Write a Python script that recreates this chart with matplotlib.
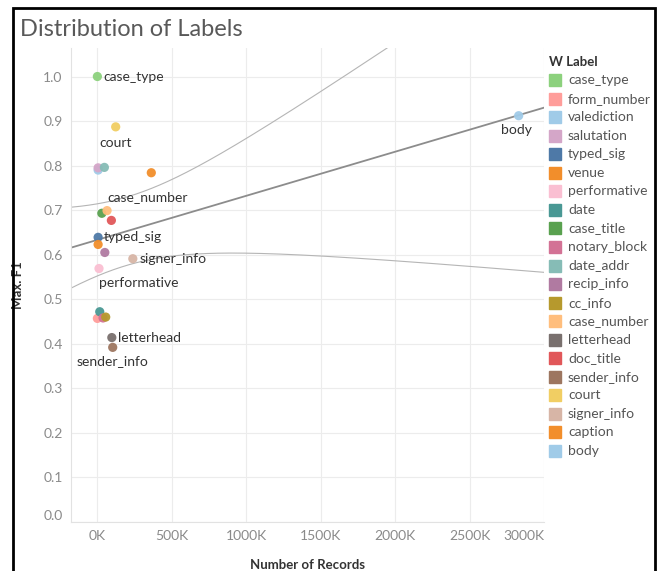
import numpy as np
import matplotlib
matplotlib.use("Agg")
import matplotlib.pyplot as plt
from matplotlib.patches import Rectangle

plt.rcParams['font.family'] = ['Lato', 'DejaVu Sans']

# label name, number of records (thousands), max F1
labels = ["case_type", "form_number", "valediction", "salutation", "typed_sig", "venue",
          "performative", "date", "case_title", "notary_block", "date_addr", "recip_info",
          "cc_info", "case_number", "letterhead", "doc_title", "sender_info", "court",
          "signer_info", "caption", "body"]
records_k = [2, 2, 7, 7, 7, 7, 13, 18, 32, 40, 49, 52, 58, 67, 99, 96, 105, 125, 240, 364, 2830]
max_f1 = [1.0, 0.457, 0.790, 0.795, 0.639, 0.623, 0.569, 0.472, 0.693, 0.458, 0.796, 0.605,
          0.460, 0.699, 0.414, 0.677, 0.392, 0.887, 0.591, 0.784, 0.912]
colors = ["#8CD17D", "#FF9D9A", "#A0CBE8", "#D4A6C8", "#4E79A7", "#F28E2B", "#FABFD2",
          "#499894", "#59A14F", "#D37295", "#86BCB6", "#B07AA1", "#B6992D", "#FFBE7D",
          "#79706E", "#E15759", "#9D7660", "#F1CE63", "#D7B5A6", "#F28E2B", "#A0CBE8"]

# which points get a text label, and where (pixel offset, alignment)
mark_labels = {
    "case_type": (6, 0, "left", "center"),
    "court": (0, -10, "center", "top"),
    "case_number": (0, 8, "left", "bottom"),
    "typed_sig": (6, 0, "left", "center"),
    "signer_info": (7, 0, "left", "center"),
    "performative": (0, -8, "left", "top"),
    "letterhead": (6, 0, "left", "center"),
    "sender_info": (0, -8, "center", "top"),
    "body": (-2, -8, "center", "top"),
}

W, H = 665, 571
fig = plt.figure(figsize=(W / 100, H / 100), dpi=100)
left, right, top, bottom = 71, 544, 48, 522
ax = fig.add_axes([left / W, 1 - bottom / H, (right - left) / W, (bottom - top) / H])

x = np.array(records_k, dtype=float)
y = np.array(max_f1)

# linear trend with 95% confidence bands
n = len(x)
b1, b0 = np.polyfit(x, y, 1)
resid = y - (b0 + b1 * x)
s = np.sqrt(np.sum(resid ** 2) / (n - 2))
sxx = np.sum((x - x.mean()) ** 2)
t = 2.093
xs = np.linspace(-175, 3000, 300)
fit = b0 + b1 * xs
half = t * s * np.sqrt(1 / n + (xs - x.mean()) ** 2 / sxx)
ax.plot(xs, fit, color="#8c8c8c", lw=1.3, zorder=2)
ax.plot(xs, fit + half, color="#b5b5b5", lw=0.8, zorder=2)
ax.plot(xs, fit - half, color="#b5b5b5", lw=0.8, zorder=2)

for name, xi, yi, c in zip(labels, x, y, colors):
    ax.scatter(xi, yi, s=44, color=c, edgecolors="none", zorder=3, alpha=0.95)
    if name in mark_labels:
        dx, dy, ha, va = mark_labels[name]
        ax.annotate(name, (xi, yi), xytext=(dx, dy), textcoords="offset pixels",
                    ha=ha, va=va, fontsize=10, color="#333333", zorder=4)

ax.set_xlim(-175, 3000)
ax.set_ylim(0, 1.064)
ax.set_xticks(np.arange(0, 3001, 500))
ax.set_xticklabels([f"{v}K" for v in range(0, 3001, 500)])
ax.set_yticks(np.arange(0, 1.01, 0.1))
ax.set_yticklabels([f"{v:.1f}" for v in np.arange(0, 1.01, 0.1)])
ax.tick_params(length=0, colors="#8a8a8a", labelsize=10, pad=6)
xt = ax.get_xticklabels()
xt[-1].set_ha("right")
ax.get_yticklabels()[0].set_va("bottom")

ax.grid(True, color="#ececec", lw=0.8)
ax.set_axisbelow(True)
for side in ["top", "right"]:
    ax.spines[side].set_visible(False)
for side in ["left", "bottom"]:
    ax.spines[side].set_color("#e2e2e2")

ax.set_xlabel("Number of Records", fontsize=9.5, color="#333333", fontweight="bold",
              labelpad=12)
ax.set_ylabel("Max. F1", fontsize=9.5, color="#333333", fontweight="bold", labelpad=14)

fig.text(20 / W, 1 - 30 / H, "Distribution of Labels", fontsize=17, color="#595959",
         va="center", ha="left")

# legend drawn as a column of swatches
fig.text(549 / W, 1 - 62 / H, "W Label", fontsize=9.5, fontweight="bold", color="#333333",
         va="center", ha="left")
for i, (name, c) in enumerate(zip(labels, colors)):
    yy = 80 + i * 18.55
    fig.patches.append(Rectangle((549 / W, 1 - (yy + 6) / H), 12 / W, 12 / H,
                                 transform=fig.transFigure, color=c, figure=fig))
    fig.text(568 / W, 1 - yy / H, name, fontsize=10, color="#555555", va="center", ha="left")

# outer frame
fig.patches.append(Rectangle((13 / W, -0.02), (655 - 13) / W, 1 - 8 / H + 0.02,
                             transform=fig.transFigure, fill=False, edgecolor="black",
                             lw=2, figure=fig))

fig.savefig("out.png", dpi=100)
